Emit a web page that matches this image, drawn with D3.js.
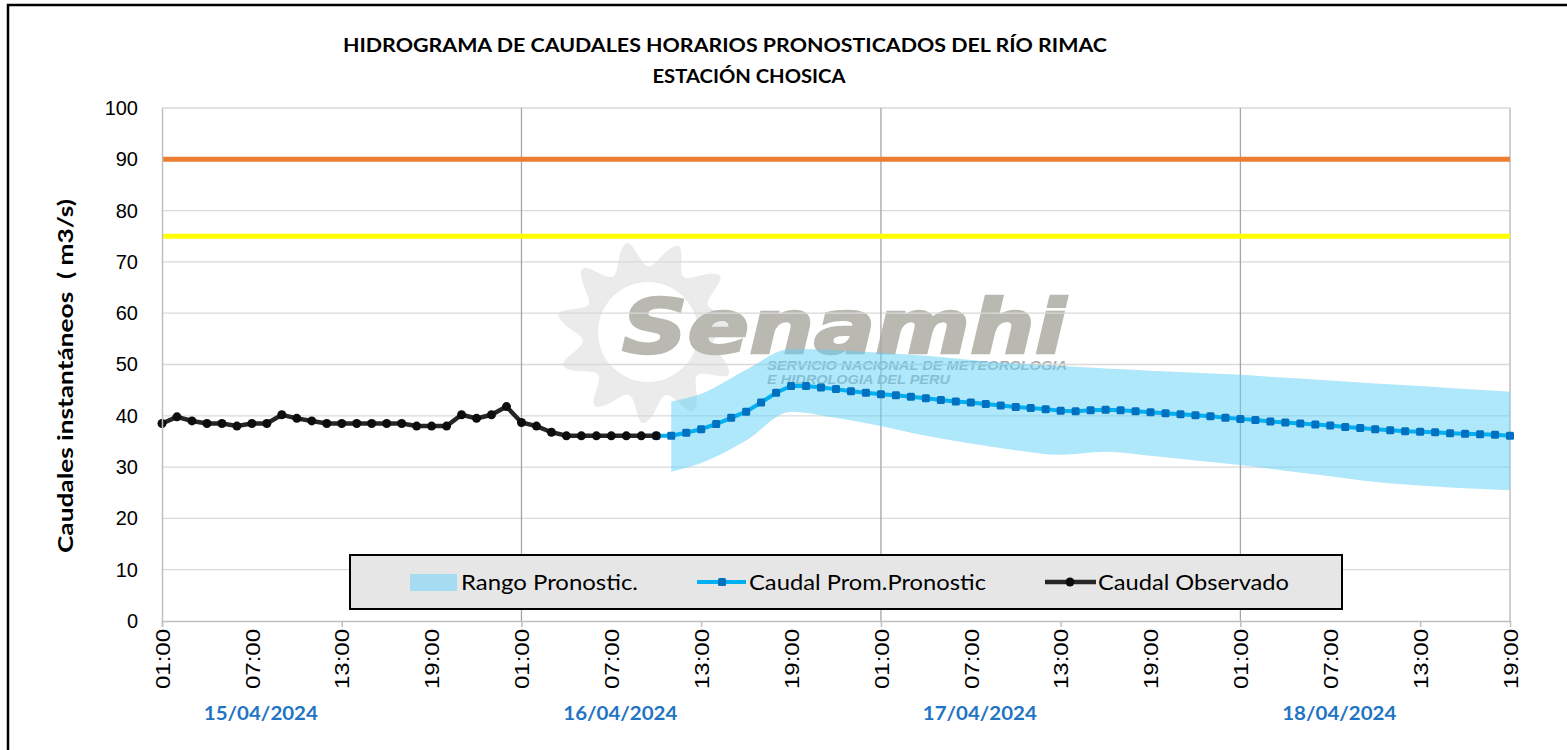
<!DOCTYPE html>
<html>
<head>
<meta charset="utf-8">
<script src="https://cdn.jsdelivr.net/npm/d3@7"></script>
<style>
  body { margin: 0; background: #fff; }
  svg { display: block; }
</style>
</head>
<body>
<div class="box"></div>
<script>
//////////////////données///////////////////////

// heure 0 = 15/04/2024 01:00, une valeur par heure
const debutObs = 0;
const observado = [38.5, 39.8, 39.0, 38.5, 38.5, 38.0, 38.5, 38.5, 40.2, 39.5, 39.0, 38.5,
                   38.5, 38.5, 38.5, 38.5, 38.5, 38.0, 38.0, 38.0, 40.2, 39.5, 40.2, 41.8,
                   38.7, 38.0, 36.8, 36.1, 36.1, 36.1, 36.1, 36.1, 36.1, 36.1];

const debutProno = 33;
const pronostico = [36.1, 36.1, 36.7, 37.4, 38.4, 39.6, 40.8, 42.6, 44.5, 45.8, 45.8, 45.5,
                    45.2, 44.8, 44.5, 44.2, 44.0, 43.7, 43.4, 43.1, 42.8, 42.6, 42.3, 42.0,
                    41.7, 41.5, 41.3, 41.0, 40.9, 41.1, 41.2, 41.1, 40.9, 40.7, 40.5, 40.3,
                    40.1, 39.9, 39.6, 39.4, 39.2, 38.9, 38.7, 38.5, 38.3, 38.1, 37.8, 37.6,
                    37.4, 37.2, 37.0, 36.9, 36.8, 36.6, 36.5, 36.4, 36.3, 36.1];

// rango pronosticado (bornes)
const rangoHoras = [34, 36, 39, 42, 45, 48, 51, 54, 57, 60, 63, 66, 69, 72, 75, 78, 81, 84, 87, 90];
const rangoSup   = [42.8, 44.3, 49.0, 53.0, 52.8, 52.3, 51.7, 50.9, 50.2, 49.7, 49.2, 48.8,
                    48.4, 48.0, 47.4, 46.9, 46.3, 45.8, 45.2, 44.7];
const rangoInf   = [29.1, 30.8, 35.2, 40.8, 39.6, 38.0, 36.1, 34.6, 33.3, 32.4, 33.0, 32.2,
                    31.3, 30.4, 29.3, 28.2, 27.1, 26.4, 25.9, 25.5];

// seuils
const umbrales = [{valor: 90, color: '#ED7D31'}, {valor: 75, color: '#FFFF00'}];

const etiquetasHora = ['01:00', '07:00', '13:00', '19:00'];
const fechas = ['15/04/2024', '16/04/2024', '17/04/2024', '18/04/2024'];
const ticksY = [0, 10, 20, 30, 40, 50, 60, 70, 80, 90, 100];

//////////////////mise en place///////////////////////

const dims = {width: 1567, height: 750};
const zone = {left: 162, right: 1510, top: 108, bottom: 621};
const police = "'Liberation Sans', Arial, sans-serif";
const policeTitre = "Lato, 'Open Sans', sans-serif";

const svg = d3.select('.box')
              .append('svg')
              .attr('width', dims.width)
              .attr('height', dims.height);

svg.append('rect')
   .attr('x', 8).attr('y', 5)
   .attr('width', 1600).attr('height', 800)
   .attr('fill', '#fff')
   .attr('stroke', '#000')
   .attr('stroke-width', 2.5);

const x = d3.scaleLinear().domain([0, 90]).range([zone.left, zone.right]);
const y = d3.scaleLinear().domain([0, 100]).range([zone.bottom, zone.top]);

//////////////////filigrane senamhi///////////////////////

const filigrane = svg.append('g').attr('transform', 'translate(648, 332)');

const soleil = d3.lineRadial()
                 .curve(d3.curveBasisClosed)
                 .angle(d => d[0])
                 .radius(d => d[1]);

// petales en spirale
const rayons = [];
const nPet = 11;
for (let k = 0; k < nPet; k++) {
    const a = k * 2 * Math.PI / nPet;
    rayons.push([a, 58]);
    rayons.push([a + 0.18, 80]);
    rayons.push([a + 0.34, 96]);
    rayons.push([a + 0.42, 84]);
}
filigrane.append('path')
         .attr('d', soleil(rayons))
         .attr('fill', '#ebebeb');
filigrane.append('circle')
         .attr('r', 50)
         .attr('fill', '#fff');

svg.append('text')
   .attr('x', 622).attr('y', 353)
   .attr('textLength', 444).attr('lengthAdjust', 'spacingAndGlyphs')
   .style('font-family', "'DejaVu Sans', sans-serif")
   .style('font-weight', 'bold').style('font-style', 'italic')
   .style('font-size', '74px')
   .attr('fill', '#b9b9b2')
   .attr('stroke', '#b9b9b2')
   .attr('stroke-width', 2.5)
   .text('Senamhi');

svg.append('text')
   .attr('x', 767).attr('y', 370)
   .attr('textLength', 300).attr('lengthAdjust', 'spacingAndGlyphs')
   .style('font-family', police).style('font-weight', 'bold').style('font-style', 'italic')
   .style('font-size', '12px')
   .attr('fill', '#a9b0b0')
   .text('SERVICIO NACIONAL DE METEOROLOGIA');

svg.append('text')
   .attr('x', 767).attr('y', 384)
   .attr('textLength', 183).attr('lengthAdjust', 'spacingAndGlyphs')
   .style('font-family', police).style('font-weight', 'bold').style('font-style', 'italic')
   .style('font-size', '12px')
   .attr('fill', '#a9b0b0')
   .text('E HIDROLOGIA DEL PERU');

//////////////////grilles///////////////////////

const graph = svg.append('g');

graph.selectAll('.grilleH')
     .data(ticksY.filter(d => d > 0))
     .enter().append('line')
     .attr('x1', zone.left).attr('x2', zone.right)
     .attr('y1', d => y(d)).attr('y2', d => y(d))
     .attr('stroke', '#d9d9d9')
     .attr('stroke-width', 1.3);

graph.selectAll('.grilleV')
     .data([24, 48, 72])
     .enter().append('line')
     .attr('x1', d => x(d)).attr('x2', d => x(d))
     .attr('y1', zone.top).attr('y2', zone.bottom)
     .attr('stroke', '#a6a6a6')
     .attr('stroke-width', 1.3);

// bord droit
graph.append('line')
     .attr('x1', zone.right).attr('x2', zone.right)
     .attr('y1', zone.top).attr('y2', zone.bottom)
     .attr('stroke', '#bfbfbf').attr('stroke-width', 1.5);

//////////////////rango///////////////////////

const aire = d3.area()
               .curve(d3.curveMonotoneX)
               .x((d, i) => x(rangoHoras[i]))
               .y0((d, i) => y(rangoInf[i]))
               .y1((d, i) => y(rangoSup[i]));

graph.append('path')
     .attr('d', aire(rangoHoras))
     .attr('fill', '#5fcff7')
     .attr('fill-opacity', 0.5);

//////////////////seuils///////////////////////

graph.selectAll('.seuil')
     .data(umbrales)
     .enter().append('line')
     .attr('x1', zone.left).attr('x2', zone.right)
     .attr('y1', d => y(d.valor)).attr('y2', d => y(d.valor))
     .attr('stroke', d => d.color)
     .attr('stroke-width', 5);

//////////////////axes///////////////////////

const axeY = d3.axisLeft(y).tickValues(ticksY).tickSize(0).tickPadding(24);
const gY = svg.append('g').attr('transform', `translate(${zone.left}, 0)`).call(axeY);
gY.select('.domain').attr('stroke', '#bfbfbf').attr('stroke-width', 1.5);
gY.selectAll('text')
  .style('font-family', police).style('font-size', '20px').attr('fill', '#000');

const axeXmarques = d3.axisBottom(x).tickValues([0, 12, 24, 36, 48, 60, 72, 84]).tickSize(6).tickFormat('');
const gXm = svg.append('g').attr('transform', `translate(0, ${zone.bottom})`).call(axeXmarques);
gXm.select('.domain').attr('stroke', '#bfbfbf').attr('stroke-width', 1.5);
gXm.selectAll('line').attr('stroke', '#bfbfbf').attr('stroke-width', 1.5);

const axeX = d3.axisBottom(x)
               .tickValues([0, 6, 12, 18, 24, 30, 36, 42, 48, 54, 60, 66, 72, 78, 84, 90])
               .tickSize(0)
               .tickFormat((d, i) => etiquetasHora[i % 4]);
const gX = svg.append('g').attr('transform', `translate(0, ${zone.bottom})`).call(axeX);
gX.select('.domain').remove();
gX.selectAll('text')
  .attr('transform', 'rotate(-90)')
  .attr('x', -8).attr('y', 0).attr('dy', '0.36em')
  .attr('textLength', 60).attr('lengthAdjust', 'spacingAndGlyphs')
  .style('text-anchor', 'end')
  .style('font-family', police).style('font-size', '20px').attr('fill', '#000');

svg.selectAll('.fecha')
   .data(fechas)
   .enter().append('text')
   .attr('x', (d, i) => x(24 * i + 6.6))
   .attr('y', 720)
   .attr('text-anchor', 'middle')
   .attr('textLength', 114).attr('lengthAdjust', 'spacingAndGlyphs')
   .style('font-family', policeTitre).style('font-weight', 'bold').style('font-size', '18px')
   .attr('fill', '#1f74c4')
   .text(d => d);

svg.append('text')
   .attr('transform', 'translate(73, 376) rotate(-90)')
   .attr('text-anchor', 'middle')
   .attr('textLength', 354).attr('lengthAdjust', 'spacingAndGlyphs')
   .style('white-space', 'pre')
   .style('font-family', policeTitre).style('font-weight', 'bold').style('font-size', '21px')
   .text('Caudales instantáneos  ( m3/s)');

//////////////////titre///////////////////////

svg.append('text')
   .attr('x', 725).attr('y', 52)
   .attr('text-anchor', 'middle')
   .attr('textLength', 764).attr('lengthAdjust', 'spacingAndGlyphs')
   .style('font-family', policeTitre).style('font-weight', 'bold').style('font-size', '19px')
   .text('HIDROGRAMA DE CAUDALES HORARIOS PRONOSTICADOS DEL RÍO RIMAC');

svg.append('text')
   .attr('x', 749).attr('y', 83)
   .attr('text-anchor', 'middle')
   .attr('textLength', 193).attr('lengthAdjust', 'spacingAndGlyphs')
   .style('font-family', policeTitre).style('font-weight', 'bold').style('font-size', '19px')
   .text('ESTACIÓN CHOSICA');

//////////////////séries///////////////////////

const lignePro = d3.line()
                   .x((d, i) => x(debutProno + i))
                   .y(d => y(d));

graph.append('path')
     .attr('d', lignePro(pronostico))
     .attr('fill', 'none')
     .attr('stroke', '#00b0f0')
     .attr('stroke-width', 4);

graph.selectAll('.carre')
     .data(pronostico)
     .enter().append('rect')
     .attr('x', (d, i) => x(debutProno + i) - 4)
     .attr('y', d => y(d) - 4)
     .attr('width', 8).attr('height', 8)
     .attr('rx', 1.5)
     .attr('fill', '#0070c0');

const ligneObs = d3.line()
                   .x((d, i) => x(debutObs + i))
                   .y(d => y(d));

graph.append('path')
     .attr('d', ligneObs(observado))
     .attr('fill', 'none')
     .attr('stroke', '#262626')
     .attr('stroke-width', 4.5);

graph.selectAll('.point')
     .data(observado)
     .enter().append('circle')
     .attr('cx', (d, i) => x(debutObs + i))
     .attr('cy', d => y(d))
     .attr('r', 4.5)
     .attr('fill', '#0d0d0d');

//////////////////legendes///////////////////////

const leg = svg.append('g');
leg.append('rect')
   .attr('x', 350).attr('y', 555)
   .attr('width', 992).attr('height', 54)
   .attr('fill', '#e6e6e6')
   .attr('stroke', '#000')
   .attr('stroke-width', 2);

leg.append('rect')
   .attr('x', 410).attr('y', 574).attr('width', 47).attr('height', 17)
   .attr('fill', '#a6dcf1');

leg.append('line')
   .attr('x1', 697).attr('x2', 746).attr('y1', 582).attr('y2', 582)
   .attr('stroke', '#00b0f0').attr('stroke-width', 4);
leg.append('rect')
   .attr('x', 718).attr('y', 578).attr('width', 8).attr('height', 8).attr('rx', 1.5)
   .attr('fill', '#0070c0');

leg.append('line')
   .attr('x1', 1045).attr('x2', 1096).attr('y1', 582).attr('y2', 582)
   .attr('stroke', '#262626').attr('stroke-width', 4.5);
leg.append('circle')
   .attr('cx', 1070).attr('cy', 582).attr('r', 4.5)
   .attr('fill', '#0d0d0d');

const legTextes = [{t: 'Rango Pronostic.', x: 461, w: 177},
                   {t: 'Caudal Prom.Pronostic', x: 749, w: 237},
                   {t: 'Caudal Observado', x: 1098, w: 191}];
leg.selectAll('.legtxt')
   .data(legTextes)
   .enter().append('text')
   .attr('x', d => d.x).attr('y', 590)
   .attr('textLength', d => d.w).attr('lengthAdjust', 'spacingAndGlyphs')
   .style('font-family', policeTitre).style('font-size', '21px')
   .attr('fill', '#000')
   .text(d => d.t);
</script>
</body>
</html>
